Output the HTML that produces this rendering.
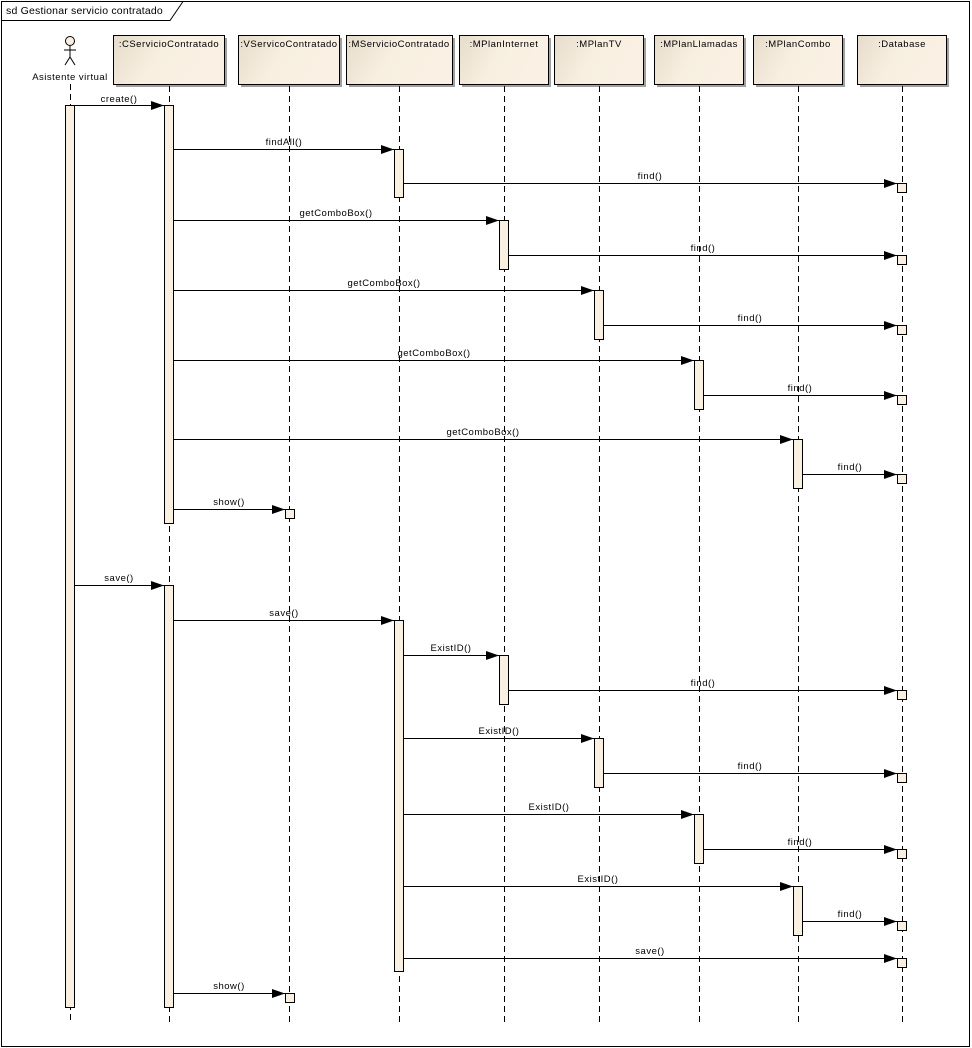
<!DOCTYPE html>
<html><head><meta charset="utf-8"><style>
html,body{margin:0;padding:0;background:#fff;}
svg{display:block;font-family:"Liberation Sans",sans-serif;}
text{font-size:9.5px;fill:#000;letter-spacing:0.5px;}
.ll{stroke:#000;stroke-width:1;stroke-dasharray:6,4;}
.act{fill:#faf0e2;stroke:#000;stroke-width:1;}
.msg{stroke:#000;stroke-width:1;}
</style></head><body>
<svg width="972" height="1048" viewBox="0 0 972 1048" xmlns="http://www.w3.org/2000/svg">
<defs>
<linearGradient id="g" x1="0" y1="0" x2="1" y2="0.3">
<stop offset="0" stop-color="#e6dccb"/><stop offset="0.5" stop-color="#f8efe1"/><stop offset="1" stop-color="#faf1e4"/>
</linearGradient>
</defs>
<rect x="1.5" y="1.5" width="968" height="1045" fill="#fff" stroke="#000"/>
<path d="M1.5 20.5 H170 L183 1.5" fill="none" stroke="#000"/>
<text x="6" y="14" style="font-size:10.5px;letter-spacing:0.2px">sd Gestionar servicio contratado</text>

<g stroke="#000" fill="none">
<circle cx="70" cy="41" r="4.5" fill="#faf0e2"/>
<line x1="70" y1="46" x2="70" y2="57"/>
<line x1="64" y1="50" x2="76" y2="50"/>
<line x1="70" y1="57" x2="65" y2="65"/>
<line x1="70" y1="57" x2="75" y2="65"/>
</g>
<text x="70" y="80" text-anchor="middle">Asistente virtual</text>

<g>
<rect x="116" y="38" width="111" height="49" fill="#a0a0a0"/>
<rect x="113.5" y="35.5" width="111" height="49" fill="url(#g)" stroke="#000"/>
<text x="169" y="47" text-anchor="middle">:CServicioContratado</text>
<rect x="241" y="38" width="101" height="49" fill="#a0a0a0"/>
<rect x="238.5" y="35.5" width="101" height="49" fill="url(#g)" stroke="#000"/>
<text x="289" y="47" text-anchor="middle">:VServicoContratado</text>
<rect x="349" y="38" width="106" height="49" fill="#a0a0a0"/>
<rect x="346.5" y="35.5" width="106" height="49" fill="url(#g)" stroke="#000"/>
<text x="399" y="47" text-anchor="middle">:MServicioContratado</text>
<rect x="462" y="38" width="89" height="49" fill="#a0a0a0"/>
<rect x="459.5" y="35.5" width="89" height="49" fill="url(#g)" stroke="#000"/>
<text x="504" y="47" text-anchor="middle">:MPlanInternet</text>
<rect x="557" y="38" width="89" height="49" fill="#a0a0a0"/>
<rect x="554.5" y="35.5" width="89" height="49" fill="url(#g)" stroke="#000"/>
<text x="599" y="47" text-anchor="middle">:MPlanTV</text>
<rect x="657" y="38" width="89" height="49" fill="#a0a0a0"/>
<rect x="654.5" y="35.5" width="89" height="49" fill="url(#g)" stroke="#000"/>
<text x="699" y="47" text-anchor="middle">:MPlanLlamadas</text>
<rect x="756" y="38" width="89" height="49" fill="#a0a0a0"/>
<rect x="753.5" y="35.5" width="89" height="49" fill="url(#g)" stroke="#000"/>
<text x="798" y="47" text-anchor="middle">:MPlanCombo</text>
<rect x="860" y="38" width="89" height="49" fill="#a0a0a0"/>
<rect x="857.5" y="35.5" width="89" height="49" fill="url(#g)" stroke="#000"/>
<text x="902" y="47" text-anchor="middle">:Database</text>
</g>

<line class="ll" x1="70.5" y1="84" x2="70.5" y2="1022"/>
<line class="ll" x1="169.5" y1="86" x2="169.5" y2="1022"/>
<line class="ll" x1="289.5" y1="86" x2="289.5" y2="1022"/>
<line class="ll" x1="399.5" y1="86" x2="399.5" y2="1022"/>
<line class="ll" x1="504.5" y1="86" x2="504.5" y2="1022"/>
<line class="ll" x1="599.5" y1="86" x2="599.5" y2="1022"/>
<line class="ll" x1="699.5" y1="86" x2="699.5" y2="1022"/>
<line class="ll" x1="798.5" y1="86" x2="798.5" y2="1022"/>
<line class="ll" x1="902.5" y1="86" x2="902.5" y2="1022"/>

<rect class="act" x="65.5" y="105.5" width="9" height="902"/>
<rect class="act" x="164.5" y="105.5" width="9" height="418"/>
<rect class="act" x="164.5" y="585.5" width="9" height="422"/>
<rect class="act" x="394.5" y="149.5" width="9" height="48"/>
<rect class="act" x="394.5" y="620.5" width="9" height="351"/>
<rect class="act" x="499.5" y="220.5" width="9" height="49"/>
<rect class="act" x="594.5" y="290.5" width="9" height="49"/>
<rect class="act" x="694.5" y="360.5" width="9" height="49"/>
<rect class="act" x="793.5" y="439.5" width="9" height="49"/>
<rect class="act" x="499.5" y="655.5" width="9" height="49"/>
<rect class="act" x="594.5" y="738.5" width="9" height="49"/>
<rect class="act" x="694.5" y="814.5" width="9" height="49"/>
<rect class="act" x="793.5" y="886.5" width="9" height="49"/>
<g>
<rect class="act" x="897.5" y="183.5" width="9" height="9"/>
<rect class="act" x="897.5" y="255.5" width="9" height="9"/>
<rect class="act" x="897.5" y="325.5" width="9" height="9"/>
<rect class="act" x="897.5" y="395.5" width="9" height="9"/>
<rect class="act" x="897.5" y="474.5" width="9" height="9"/>
<rect class="act" x="897.5" y="690.5" width="9" height="9"/>
<rect class="act" x="897.5" y="773.5" width="9" height="9"/>
<rect class="act" x="897.5" y="849.5" width="9" height="9"/>
<rect class="act" x="897.5" y="921.5" width="9" height="9"/>
<rect class="act" x="897.5" y="958.5" width="9" height="9"/>
<rect class="act" x="285.5" y="509.5" width="9" height="9"/>
<rect class="act" x="285.5" y="993.5" width="9" height="9"/>
</g>

<g class="msg">
<line x1="74" y1="105.5" x2="164" y2="105.5"/>
<line x1="174" y1="149.5" x2="394" y2="149.5"/>
<line x1="404" y1="183.5" x2="897" y2="183.5"/>
<line x1="174" y1="220.5" x2="499" y2="220.5"/>
<line x1="509" y1="255.5" x2="897" y2="255.5"/>
<line x1="174" y1="290.5" x2="594" y2="290.5"/>
<line x1="604" y1="325.5" x2="897" y2="325.5"/>
<line x1="174" y1="360.5" x2="694" y2="360.5"/>
<line x1="704" y1="395.5" x2="897" y2="395.5"/>
<line x1="174" y1="439.5" x2="793" y2="439.5"/>
<line x1="803" y1="474.5" x2="897" y2="474.5"/>
<line x1="174" y1="509.5" x2="285" y2="509.5"/>
<line x1="74" y1="585.5" x2="164" y2="585.5"/>
<line x1="174" y1="620.5" x2="394" y2="620.5"/>
<line x1="404" y1="655.5" x2="499" y2="655.5"/>
<line x1="509" y1="690.5" x2="897" y2="690.5"/>
<line x1="404" y1="738.5" x2="594" y2="738.5"/>
<line x1="604" y1="773.5" x2="897" y2="773.5"/>
<line x1="404" y1="814.5" x2="694" y2="814.5"/>
<line x1="704" y1="849.5" x2="897" y2="849.5"/>
<line x1="404" y1="886.5" x2="793" y2="886.5"/>
<line x1="803" y1="921.5" x2="897" y2="921.5"/>
<line x1="404" y1="958.5" x2="897" y2="958.5"/>
<line x1="174" y1="993.5" x2="285" y2="993.5"/>
</g>
<g fill="#000">
<polygon points="164,105.5 151,101 151,110"/>
<polygon points="394,149.5 381,145 381,154"/>
<polygon points="897,183.5 884,179 884,188"/>
<polygon points="499,220.5 486,216 486,225"/>
<polygon points="897,255.5 884,251 884,260"/>
<polygon points="594,290.5 581,286 581,295"/>
<polygon points="897,325.5 884,321 884,330"/>
<polygon points="694,360.5 681,356 681,365"/>
<polygon points="897,395.5 884,391 884,400"/>
<polygon points="793,439.5 780,435 780,444"/>
<polygon points="897,474.5 884,470 884,479"/>
<polygon points="285,509.5 272,505 272,514"/>
<polygon points="164,585.5 151,581 151,590"/>
<polygon points="394,620.5 381,616 381,625"/>
<polygon points="499,655.5 486,651 486,660"/>
<polygon points="897,690.5 884,686 884,695"/>
<polygon points="594,738.5 581,734 581,743"/>
<polygon points="897,773.5 884,769 884,778"/>
<polygon points="694,814.5 681,810 681,819"/>
<polygon points="897,849.5 884,845 884,854"/>
<polygon points="793,886.5 780,882 780,891"/>
<polygon points="897,921.5 884,917 884,926"/>
<polygon points="897,958.5 884,954 884,963"/>
<polygon points="285,993.5 272,989 272,998"/>
</g>
<g text-anchor="middle">
<text x="119" y="102">create()</text>
<text x="284" y="145">findAll()</text>
<text x="650" y="179">find()</text>
<text x="336" y="216">getComboBox()</text>
<text x="703" y="251">find()</text>
<text x="384" y="286">getComboBox()</text>
<text x="750" y="321">find()</text>
<text x="434" y="356">getComboBox()</text>
<text x="800" y="391">find()</text>
<text x="483" y="435">getComboBox()</text>
<text x="850" y="470">find()</text>
<text x="229" y="505">show()</text>
<text x="119" y="581">save()</text>
<text x="284" y="616">save()</text>
<text x="451" y="651">ExistID()</text>
<text x="703" y="686">find()</text>
<text x="499" y="734">ExistID()</text>
<text x="750" y="769">find()</text>
<text x="549" y="810">ExistID()</text>
<text x="800" y="845">find()</text>
<text x="598" y="882">ExistID()</text>
<text x="850" y="917">find()</text>
<text x="650" y="954">save()</text>
<text x="229" y="989">show()</text>
</g>
</svg>
</body></html>
